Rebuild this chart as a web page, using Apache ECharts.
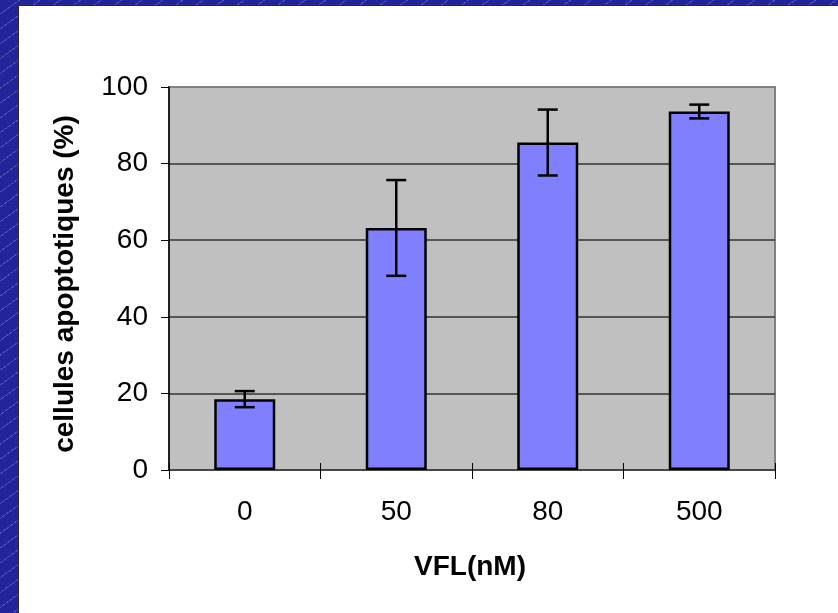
<!DOCTYPE html>
<html>
<head>
<meta charset="utf-8">
<script src="https://cdn.jsdelivr.net/npm/echarts@6/dist/echarts.min.js"></script>
<style>
  html, body { margin: 0; padding: 0; }
  body {
    width: 838px; height: 613px; overflow: hidden; position: relative;
    background: repeating-linear-gradient(144deg, #24249a 0px, #24249a 11px, #4e4eb0 11px, #4e4eb0 12px);
  }
  #panel { position: absolute; left: 18px; top: 5px; width: 900px; height: 700px; background: #fff; border: 1px solid #2a2a2a; }
  #chart { position: absolute; left: 0; top: 0; width: 838px; height: 613px; }
</style>
</head>
<body>
<div id="panel"></div>
<div id="chart"></div>
<script>
const categories = ['0', '50', '80', '500'];
const values = [18.5, 63.2, 85.5, 93.6];
const errors = [2.1, 12.5, 8.6, 1.8];
const yTicks = { min: 0, max: 100, interval: 20 };

const errData = values.map((v, i) => [i, v - errors[i], v + errors[i]]);

const chart = echarts.init(document.getElementById('chart'), null, { renderer: 'canvas' });
chart.setOption({
  backgroundColor: 'transparent',
  animation: false,
  grid: {
    left: 169, top: 87, width: 606, height: 383,
    show: true, backgroundColor: '#C0C0C0', borderColor: '#808080', borderWidth: 2
  },
  xAxis: {
    type: 'category', data: categories, offset: -7,
    axisLine: { show: false },
    axisTick: { show: true, length: 16, lineStyle: { color: '#000', width: 1 } },
    axisLabel: { margin: 35, fontSize: 28, fontFamily: 'Arial, Liberation Sans', color: '#000' },
    splitLine: { show: false }
  },
  yAxis: {
    type: 'value', min: yTicks.min, max: yTicks.max, interval: yTicks.interval,
    axisLine: { show: true, lineStyle: { color: '#000', width: 1.5 } },
    axisTick: { show: true, length: 8, lineStyle: { color: '#000', width: 1 } },
    axisLabel: { margin: 21, fontSize: 28, fontFamily: 'Arial, Liberation Sans', color: '#000' },
    splitLine: { show: true, showMinLine: true, showMaxLine: false, lineStyle: { color: '#333', width: 1.5 } }
  },
  graphic: [
    { type: 'text', x: 65, y: 284, rotation: Math.PI / 2,
      style: { text: 'cellules apoptotiques (%)', font: 'bold 28px Arial, Liberation Sans', fill: '#000', align: 'center', verticalAlign: 'middle' } },
    { type: 'text', x: 470, y: 567,
      style: { text: 'VFL(nM)', font: 'bold 28px Arial, Liberation Sans', fill: '#000', align: 'center', verticalAlign: 'middle' } }
  ],
  series: [
    {
      type: 'bar', data: values, barWidth: 61,
      itemStyle: { color: '#8080FF', borderColor: '#000', borderWidth: 2.5 }
    },
    {
      type: 'custom', data: errData, z: 10,
      renderItem: function (params, api) {
        const i = api.value(0);
        const lo = api.coord([i, api.value(1)]);
        const hi = api.coord([i, api.value(2)]);
        const hw = 10;
        const st = { stroke: '#000', lineWidth: 2.5 };
        return { type: 'group', children: [
          { type: 'line', shape: { x1: lo[0], y1: lo[1], x2: hi[0], y2: hi[1] }, style: st },
          { type: 'line', shape: { x1: lo[0] - hw, y1: lo[1], x2: lo[0] + hw, y2: lo[1] }, style: st },
          { type: 'line', shape: { x1: hi[0] - hw, y1: hi[1], x2: hi[0] + hw, y2: hi[1] }, style: st }
        ]};
      }
    }
  ]
});
</script>
</body>
</html>
